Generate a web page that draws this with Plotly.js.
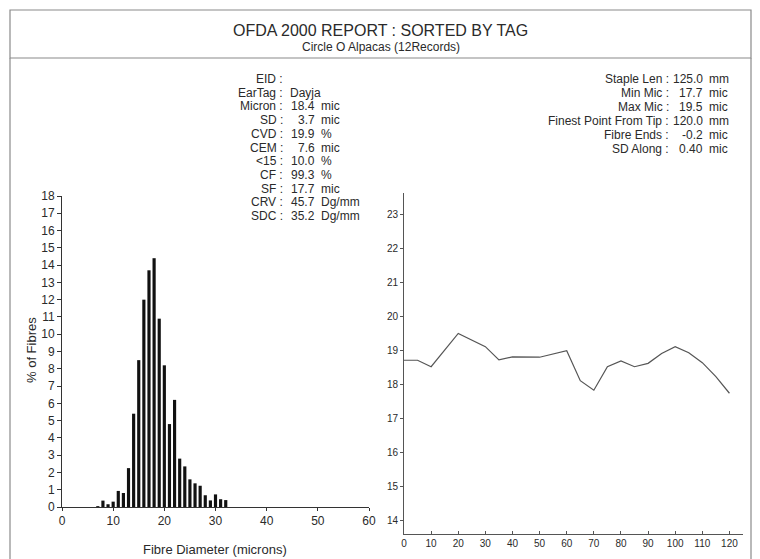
<!DOCTYPE html>
<html>
<head>
<meta charset="utf-8">
<script src="https://cdn.plot.ly/plotly-3.0.1.min.js"></script>
<style>
  html, body { margin: 0; padding: 0; background: #ffffff; }
  #chart { width: 760px; height: 559px; }
</style>
</head>
<body>
<div id="chart"></div>
<script>
// ---------- data ----------
const reportTitle = "OFDA 2000 REPORT : SORTED BY TAG";
const reportSubtitle = "Circle O Alpacas (12Records)";

// histogram: fibre diameter (microns) vs % of fibres
const diameters = [7, 8, 9, 10, 11, 12, 13, 14, 15, 16, 17, 18, 19, 20, 21, 22, 23, 24, 25, 26, 27, 28, 29, 30, 31, 32];
const pctFibres = [0.05, 0.37, 0.16, 0.31, 0.93, 0.81, 2.25, 5.4, 8.5, 12.0, 13.7, 14.4, 10.9, 8.2, 4.8, 6.2, 2.8, 2.35, 1.6, 1.37, 1.23, 0.68, 0.38, 0.73, 0.45, 0.4];
const histXTicks = [0, 10, 20, 30, 40, 50, 60];
const histYTicks = [0, 1, 2, 3, 4, 5, 6, 7, 8, 9, 10, 11, 12, 13, 14, 15, 16, 17, 18];

// profile along staple: position (mm) vs micron
const positions = [0, 5, 10, 20, 30, 35, 40, 50, 60, 65, 70, 75, 80, 85, 90, 95, 100, 105, 110, 115, 120];
const micronAlong = [18.72, 18.72, 18.53, 19.51, 19.12, 18.73, 18.82, 18.81, 19.0, 18.12, 17.84, 18.53, 18.7, 18.53, 18.63, 18.92, 19.12, 18.94, 18.65, 18.24, 17.75];
const profXTicks = [0, 10, 20, 30, 40, 50, 60, 70, 80, 90, 100, 110, 120];
const profYTicks = [14, 15, 16, 17, 18, 19, 20, 21, 22, 23];

// stats blocks
const leftLabels = ["EID :", "EarTag :", "Micron :", "SD :", "CVD :", "CEM :", "<15 :", "CF :", "SF :", "CRV :", "SDC :"];
const leftNums   = ["", "", "18.4", "3.7", "19.9", "7.6", "10.0", "99.3", "17.7", "45.7", "35.2"];
const leftUnits  = ["", "Dayja", "mic", "mic", "%", "mic", "%", "%", "mic", "Dg/mm", "Dg/mm"];
const rightLabels = ["Staple Len :", "Min Mic :", "Max Mic :", "Finest Point From Tip :", "Fibre Ends :", "SD Along :"];
const rightNums   = ["125.0", "17.7", "19.5", "120.0", "-0.2", "0.40"];
const rightUnits  = ["mm", "mic", "mic", "mm", "mic", "mic"];

// ---------- layout helpers ----------
const W = 760, H = 559;
const px = v => v / W;
const py = v => 1 - v / H;
const FONT = "Liberation Sans, Arial, Helvetica, sans-serif";
const TXT = "#2a2a2a";

const annotations = [];
function addText(text, x, y, xanchor, size, extra) {
  annotations.push(Object.assign({
    text: text, xref: "paper", yref: "paper", x: px(x), y: py(y),
    xanchor: xanchor, yanchor: "middle", showarrow: false, borderpad: 0,
    font: { family: FONT, size: size, color: TXT }
  }, extra || {}));
}

addText(reportTitle, 381, 30, "center", 16);
addText(reportSubtitle, 381, 47, "center", 12);

leftLabels.forEach((lab, i) => {
  const y = 79 + i * 13.7;
  addText(lab, 284, y, "right", 12);
  if (leftNums[i]) {
    addText(leftNums[i], 316, y, "right", 12);
    addText(leftUnits[i], 320, y, "left", 12);
  } else if (leftUnits[i]) {
    addText(leftUnits[i], 289, y, "left", 12);
  }
});

rightLabels.forEach((lab, i) => {
  const y = 79 + i * 14;
  addText(lab, 670, y, "right", 12);
  addText(rightNums[i], 704, y, "right", 12);
  addText(rightUnits[i], 708, y, "left", 12);
});

// axis titles
addText("Fibre Diameter (microns)", 215, 549, "center", 13);
addText("% of Fibres", 31, 350, "center", 13, { textangle: -90 });

const BORDER = "#8a8a8a";
const shapes = [
  { type: "rect", xref: "paper", yref: "paper", x0: px(10), x1: px(751), y0: py(58), y1: py(10),
    line: { color: BORDER, width: 1.2 } },
  { type: "line", xref: "paper", yref: "paper", x0: px(10), x1: px(10), y0: py(58), y1: py(559),
    line: { color: BORDER, width: 1.2 } },
  { type: "line", xref: "paper", yref: "paper", x0: px(751), x1: px(751), y0: py(58), y1: py(559),
    line: { color: BORDER, width: 1.2 } }
];

const traces = [
  {
    type: "bar", x: diameters, y: pctFibres, width: 0.62,
    marker: { color: "#111111", line: { width: 0 } },
    xaxis: "x", yaxis: "y", hoverinfo: "x+y"
  },
  {
    type: "scatter", mode: "lines", x: positions, y: micronAlong,
    line: { color: "#555555", width: 1.2 },
    xaxis: "x2", yaxis: "y2", hoverinfo: "x+y"
  }
];

const axisCommon = {
  showgrid: false, zeroline: false, showline: true, fixedrange: true,
  tickmode: "array"
};

const layout = {
  width: W, height: H,
  margin: { l: 0, r: 0, t: 0, b: 0, pad: 0 },
  paper_bgcolor: "#ffffff", plot_bgcolor: "rgba(0,0,0,0)",
  showlegend: false,
  font: { family: FONT, color: TXT },
  xaxis: Object.assign({}, axisCommon, {
    domain: [px(62), px(369)], range: [0, 60], tickvals: histXTicks,
    linecolor: "#333", linewidth: 1, ticks: "outside", ticklen: 3, tickcolor: "#333",
    tickfont: { family: FONT, size: 12, color: TXT }, anchor: "y"
  }),
  yaxis: Object.assign({}, axisCommon, {
    domain: [1 - 507 / H, 1 - 196 / H], range: [0, 18], tickvals: histYTicks,
    linecolor: "#333", linewidth: 1, ticks: "outside", ticklen: 4, tickcolor: "#333",
    tickfont: { family: FONT, size: 12, color: TXT }, anchor: "x"
  }),
  xaxis2: Object.assign({}, axisCommon, {
    domain: [px(404), px(743)], range: [0, 125], tickvals: profXTicks,
    linecolor: "#555", linewidth: 1, ticks: "inside", ticklen: 3, tickcolor: "#555",
    tickfont: { family: FONT, size: 10, color: TXT }, anchor: "y2"
  }),
  yaxis2: Object.assign({}, axisCommon, {
    domain: [1 - 534 / H, 1 - 193 / H], range: [13.61, 23.64], tickvals: profYTicks,
    linecolor: "#555", linewidth: 1, ticks: "outside", ticklen: 3, tickcolor: "#555",
    tickfont: { family: FONT, size: 10, color: TXT }, anchor: "x2"
  }),
  annotations: annotations,
  shapes: shapes
};

Plotly.newPlot("chart", traces, layout, { displayModeBar: false, staticPlot: true });
</script>
</body>
</html>
